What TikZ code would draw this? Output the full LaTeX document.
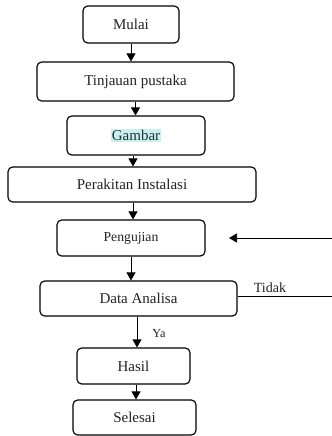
\documentclass[tikz,border=0pt]{standalone}
\usepackage{fontspec}
\setmainfont{Liberation Serif}
\usetikzlibrary{arrows.meta}
\definecolor{sorot}{HTML}{CDEEEE}
\definecolor{teks}{HTML}{222222}
\newcommand{\tp}{*0.03cm}
\tikzset{
    langkah/.style={draw, rounded corners=4pt, line width=1pt, inner sep=0pt, text=teks, font=\fontsize{12.8}{14}\selectfont},
    panah/.style={draw, line width=0.6pt, -{Triangle[width=0.27cm, length=0.24cm]}},
    garis/.style={draw, line width=0.6pt},
}
\begin{document}
\begin{tikzpicture}[x=0.03cm, y=-0.03cm]
    \useasboundingbox (0,0) rectangle (332,436);

    \begin{scope}[every node/.style={langkah}]
        \node[minimum width=96\tp, minimum height=37\tp] (mulai) at (131,24.5) {Mulai};
        \node[minimum width=197\tp, minimum height=39\tp] (tinjauan) at (135.5,81.5) {Tinjauan pustaka};
        \node[minimum width=138\tp, minimum height=39\tp] (gambar) at (136,135.5) {\setlength{\fboxsep}{1pt}\colorbox{sorot}{\color{teks!80!teal}Gambar}};
        \node[minimum width=248\tp, minimum height=35\tp] (perakitan) at (132,184.5) {Perakitan Instalasi};
        \node[minimum width=148\tp, minimum height=36\tp, font=\fontsize{11.7}{13}\selectfont] (pengujian) at (131,238) {Pengujian};
        \node[minimum width=197\tp, minimum height=35\tp] (data) at (138.5,298.5) {Data Analisa};
        \node[minimum width=113\tp, minimum height=36\tp] (hasil) at (133.5,366) {Hasil};
        \node[minimum width=123\tp, minimum height=35\tp] (selesai) at (134.5,417.5) {Selesai};
    \end{scope}

    \coordinate (tidakujung) at (332,296);
    \coordinate (ulang) at (332,238);
    \coordinate (ulangtip) at (229,238);

    \begin{scope}[every path/.style={panah}]
        \path (mulai) -- (mulai |- tinjauan.north);
        \path (tinjauan) -- (tinjauan |- gambar.north);
        \path ([xshift=-3\tp]gambar.south) -- ([xshift=-3\tp]gambar.south |- perakitan.north);
        \path ([xshift=1\tp]perakitan.south) -- ([xshift=1\tp]perakitan.south |- pengujian.north);
        \path (pengujian) -- (pengujian |- data.north);
        \path ([xshift=-1.5\tp]data.south) -- ([xshift=-1.5\tp]data.south |- hasil.north);
        \path ([xshift=2.5\tp]hasil.south) -- ([xshift=2.5\tp]hasil.south |- selesai.north);
        \path (ulang) -- (ulangtip);
    \end{scope}

    \path[garis] (data.east |- tidakujung) -- (tidakujung);

    \node[text=teks, font=\fontsize{12}{13}\selectfont] (tidak) at (270,288) {Tidak};
    \node[text=teks, font=\fontsize{10.5}{12}\selectfont] (ya) at (159,334) {Ya};
\end{tikzpicture}
\end{document}
